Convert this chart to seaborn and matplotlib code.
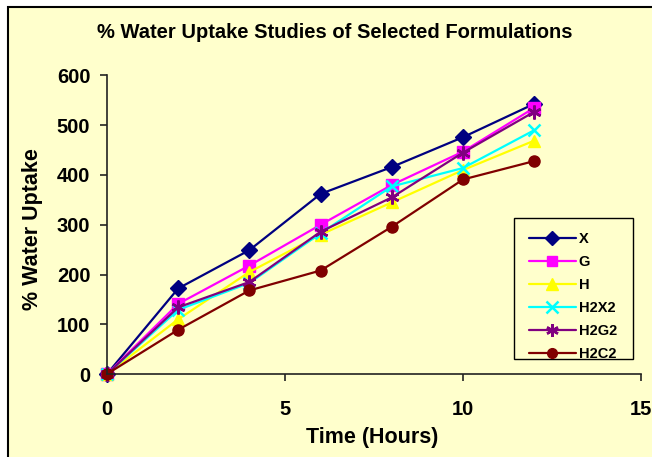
import matplotlib
matplotlib.use("Agg")
import matplotlib.pyplot as plt
import seaborn as sns
import pandas as pd
from matplotlib.patches import Rectangle
from matplotlib.lines import Line2D

time_hours = [0, 2, 4, 6, 8, 10, 12]
x_vals = [0, 172, 249, 362, 416, 476, 543]
g_vals = [0, 141, 218, 300, 380, 447, 535]
h_vals = [0, 110, 205, 280, 345, 410, 469]
h2x2_vals = [0, 129, 183, 283, 377, 414, 490]
h2g2_vals = [0, 134, 185, 286, 355, 445, 527]
h2c2_vals = [0, 89, 168, 208, 296, 391, 428]

series_names = ["X", "G", "H", "H2X2", "H2G2", "H2C2"]
series_values = [x_vals, g_vals, h_vals, h2x2_vals, h2g2_vals, h2c2_vals]

palette = {"X": "#000080", "G": "#FF00FF", "H": "#FFFF00",
           "H2X2": "#00FFFF", "H2G2": "#800080", "H2C2": "#800000"}
markers = {"X": "D", "G": "s", "H": "^", "H2X2": "x", "H2G2": (6, 2, 0), "H2C2": "o"}
msizes = {"X": 8, "G": 8, "H": 9, "H2X2": 9, "H2G2": 10, "H2C2": 8}

sns.set_theme(style="white")
plt.rcParams["font.family"] = ["Liberation Sans", "DejaVu Sans"]
plt.rcParams["font.weight"] = "bold"
plt.rcParams["text.color"] = "black"
plt.rcParams["xtick.color"] = "black"
plt.rcParams["ytick.color"] = "black"

bg = "#FFFFCC"
fig = plt.figure(figsize=(6.52, 4.57), dpi=100)
fig.patch.set_facecolor("white")
fig.patches.append(Rectangle((8 / 652, -0.05), 1.0, 1 - 7 / 457 + 0.05,
                             transform=fig.transFigure, facecolor=bg,
                             edgecolor="black", linewidth=1.5, zorder=-5))

ax = fig.add_axes([107 / 652, 1 - 374 / 457, (641 - 107) / 652, (374 - 75.5) / 457])
ax.set_zorder(2)
ax.set_facecolor(bg)

for name, vals in zip(series_names, series_values):
    d = pd.DataFrame({"Time": time_hours, "Uptake": vals})
    sns.lineplot(data=d, x="Time", y="Uptake", color=palette[name],
                 marker=markers[name], markersize=msizes[name],
                 markerfacecolor=palette[name], markeredgecolor=palette[name],
                 markeredgewidth=1.8 if name in ("H2X2", "H2G2") else 1.0,
                 linewidth=1.6, ax=ax, clip_on=False, legend=False)

ax.set_xlim(0, 15)
ax.set_ylim(0, 600)
ax.set_xticks([0, 5, 10, 15])
ax.set_yticks([0, 100, 200, 300, 400, 500, 600])
for s in ["top", "right"]:
    ax.spines[s].set_visible(False)
for s in ["left", "bottom"]:
    ax.spines[s].set_color("#222222")
    ax.spines[s].set_linewidth(1.2)
ax.tick_params(axis="both", direction="out", length=5, width=1.2, color="#222222",
               labelsize=14.5, labelcolor="black")
ax.tick_params(axis="x", pad=13.5, bottom=True)
ax.tick_params(axis="y", pad=7, left=True)
for lab in ax.get_xticklabels() + ax.get_yticklabels():
    lab.set_fontweight("bold")

ax.set_xlabel("")
ax.set_ylabel("")
fig.text(372 / 652, 1 - 437 / 457, "Time (Hours)", ha="center", va="center",
         fontsize=15.5, fontweight="bold")
fig.text(33 / 652, 1 - 229 / 457, "% Water Uptake", ha="center", va="center",
         rotation=90, fontsize=15.5, fontweight="bold")
fig.text(335 / 652, 1 - 33 / 457, "% Water Uptake Studies of Selected Formulations",
         ha="center", va="center", fontsize=14.5, fontweight="bold")

# legend frame
fig.patches.append(Rectangle((514 / 652, 1 - 359 / 457), 119 / 652, 141 / 457,
                             transform=fig.transFigure, facecolor=bg,
                             edgecolor="black", linewidth=1.0, zorder=3))
handles = [Line2D([0], [0], color=palette[n], marker=markers[n], markersize=msizes[n] - 1,
                  markerfacecolor=palette[n], markeredgecolor=palette[n],
                  markeredgewidth=1.8 if n in ("H2X2", "H2G2") else 1.0, linewidth=1.6)
           for n in series_names]
leg = fig.legend(handles, series_names, loc="upper left",
                 bbox_to_anchor=(516 / 652, 1 - 219 / 457), frameon=False,
                 prop={"weight": "bold", "size": 10.5,
                       "family": ["Liberation Sans Narrow", "Liberation Sans"]},
                 handlelength=3.2, labelspacing=0.62, borderpad=0.4, handletextpad=0.2)
leg.set_zorder(4)

fig.savefig("out.png", dpi=100, facecolor=fig.get_facecolor())
